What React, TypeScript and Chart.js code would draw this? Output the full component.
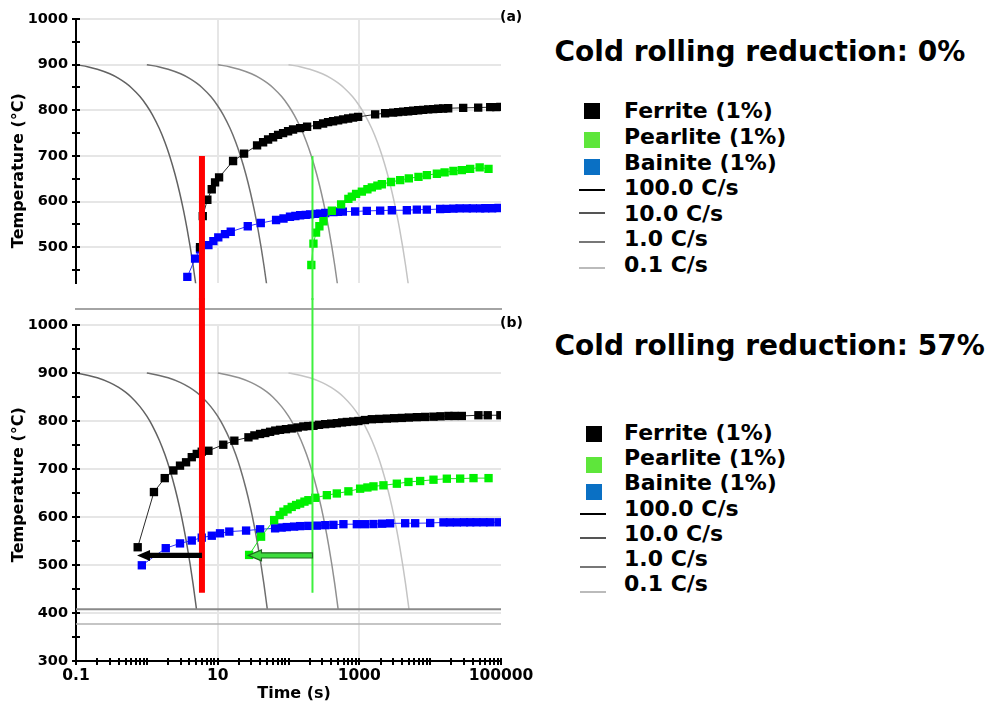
import React, { useEffect, useRef } from 'react';
import { Chart, registerables } from 'chart.js';

Chart.register(...registerables);

const FONT = '"DejaVu Sans", "Liberation Sans", sans-serif';

// ---------------- axes ----------------
const xMin = 0.1;
const xMax = 100000;
const xLabelValues = [0.1, 10, 1000, 100000];
const xLabelTexts = ['0.1', '10', '1000', '100000'];
const xGridValues = [10, 1000];
const yMax = 1000;
const yMinA = 421;
const yMinB = 300;
const yTickStep = 50;
const yLabelStep = 100;

// ---------------- cooling curves (shared temperatures) ----------------
const coolTemps = [900, 895, 890, 880, 870, 860, 850, 830, 810, 790, 760, 730, 700, 660, 620, 580, 540, 500, 460, 408];
const cool100Times = [0.1, 0.15, 0.2, 0.3, 0.4, 0.5, 0.6, 0.8, 1.0, 1.2, 1.5, 1.8, 2.1, 2.5, 2.9, 3.3, 3.7, 4.1, 4.5, 5.02];
const cool10Times = [1, 1.5, 2, 3, 4, 5, 6, 8, 10, 12, 15, 18, 21, 25, 29, 33, 37, 41, 45, 50.2];
const cool1Times = [10, 15, 20, 30, 40, 50, 60, 80, 100, 120, 150, 180, 210, 250, 290, 330, 370, 410, 450, 502];
const cool01Times = [100, 150, 200, 300, 400, 500, 600, 800, 1000, 1200, 1500, 1800, 2100, 2500, 2900, 3300, 3700, 4100, 4500, 5020];
const rateNames = ['100.0 C/s', '10.0 C/s', '1.0 C/s', '0.1 C/s'];

// martensite lines (panel b)
const msTemp = 408;
const mfTemp = 377;

// marker vertical lines
const redLineTime = 6.0;
const greenLineTime = 218;
const markerLineTop = 700;
const markerLineBottomB = 442;

// ---------------- panel (a): 0% ----------------
const ferriteATime = [5.64, 6.16, 7.15, 8.25, 9.19, 10.47, 16.5, 23.6, 36.0, 43.8, 51.5, 60.6, 71.3, 83.9, 98.7, 116, 146, 183, 254, 308, 362, 426, 502, 590, 695, 817, 962, 1672, 2314, 3002, 3532, 4157, 4890, 5754, 6769, 7964, 9371, 11030, 12970, 15260, 17960, 29250, 47640, 70400, 85550, 98000];
const ferriteATemp = [500, 568, 604, 627, 642, 653, 689, 705, 723, 730, 736, 741, 746, 750, 754, 758, 761, 764, 767.5, 771, 774, 776, 778, 780, 782, 784, 785.5, 791, 793.6, 795, 796, 797, 798, 799, 800, 801, 802, 802.7, 803.3, 804, 804.5, 805.4, 806, 806.8, 807, 807.4];

const pearliteATime = [210, 225, 245, 273, 311, 409, 553, 700, 784, 900, 1085, 1300, 1502, 1800, 2080, 2800, 3770, 5000, 6840, 9000, 12440, 16000, 21300, 28000, 36700, 50000, 66600];
const pearliteATemp = [461, 508, 532, 546, 557, 580, 594, 606, 611, 617, 622, 627, 631, 635, 638, 643, 647, 651, 654, 658, 661, 664, 667, 669, 671.5, 675, 671.5];

const bainiteATime = [3.73, 4.8, 5.64, 7.4, 8.7, 10.2, 12.7, 15.3, 26.6, 40.6, 66.8, 85, 105, 125, 146, 175, 202, 240, 279, 330, 431, 500, 585, 873, 1276, 1968, 2877, 4688, 6490, 8980, 13840, 17000, 21300, 26000, 32900, 40000, 50800, 60000, 75000, 92200];
const bainiteATemp = [435, 475, 495.5, 504.5, 513.5, 521.7, 528.6, 534, 546, 553, 559.6, 563, 566.7, 568.5, 570, 571, 572, 573, 573.5, 575, 577, 577.5, 578, 578.3, 579.7, 580.3, 581, 581, 582.4, 582.4, 583.8, 584, 584.5, 585, 585, 585, 585, 585.5, 585.5, 585.9];

// ---------------- panel (b): 57% ----------------
const ferriteBTime = [0.743, 1.26, 1.79, 2.37, 2.94, 3.58, 4.31, 5.07, 5.96, 7.4, 12, 17.2, 27.2, 33, 39.7, 47, 55, 65, 76, 92, 111, 135, 162, 190, 225, 270, 329, 400, 481, 570, 666, 820, 971, 1200, 1500, 1900, 2445, 3100, 3980, 5000, 6490, 8500, 11140, 14000, 18150, 22000, 28000, 48000, 65000, 98000];
const ferriteBTemp = [537, 652, 681, 697, 707, 714, 724.6, 731.4, 736, 738, 750.6, 759, 766, 770, 773, 775, 777.5, 780, 781.6, 783, 784.5, 786.5, 788.6, 789.5, 790, 792, 793.4, 794.5, 795.5, 797, 798, 799, 800, 802, 803.7, 804.3, 805, 805.8, 806.4, 807.2, 808, 808.5, 809, 809.8, 810.5, 810.5, 810.5, 812, 812, 812];

const pearliteBTime = [27.8, 41, 62.7, 75, 84.8, 97, 111, 128, 146, 168, 191, 238, 348, 481, 701, 1026, 1300, 1583, 2190, 3385, 4937, 7220, 11140, 17200, 26500, 40900, 66700];
const pearliteBTemp = [521, 559, 593.6, 604, 611, 616, 621, 625, 628, 632, 635, 640, 645.5, 649, 653.5, 659, 661.5, 663.8, 666, 669.4, 673, 675, 677.7, 679.8, 680, 681, 681];

const bainiteBTime = [0.85, 1.85, 2.94, 4.31, 5.96, 8.26, 10.8, 14.6, 25.2, 39.7, 64.7, 80, 94.7, 120, 146, 190, 251, 330, 431, 596, 922, 1200, 1583, 2100, 2723, 4436, 6140, 10000, 15400, 19000, 23800, 30000, 36700, 45000, 56600, 70000, 92200];
const bainiteBTemp = [499.4, 535, 545, 551, 557, 561, 566, 569.6, 571.7, 574.4, 576.4, 578, 579, 580, 581, 581.5, 582, 583, 583.6, 585, 585, 585, 585.3, 586, 586.8, 587, 587, 587.5, 588.8, 588.8, 588.8, 589, 589, 589, 589, 589, 589];

// arrows in panel (b): start time -> tip time at a temperature
const arrowFromTime = [6.0, 218];
const arrowToTime = [0.727, 27.2];
const arrowTemp = [520, 520];

// ---------------- legend ----------------
const phaseNames = ['Ferrite (1%)', 'Pearlite (1%)', 'Bainite (1%)'];
const panelTitles = ['Cold rolling reduction: 0%', 'Cold rolling reduction: 57%'];
const panelTags = ['(a)', '(b)'];

// styles
const phaseLegendColors = ['#000000', '#5ee63b', '#0a70c4'];
const rateLegendColors = ['#000000', '#555555', '#777777', '#bbbbbb'];
const coolColors = ['#626262', '#6e6e6e', '#909090', '#c4c4c4'];
const gridColor = '#e6e6e6';

const pts = (t: number[], T: number[]) => t.map((v, i) => ({ x: v, y: T[i] }));

const crossTicks = {
  id: 'crossTicks',
  afterDraw(chart: any, _a: any, opts: any) {
    const { ctx, chartArea } = chart;
    const xs = chart.scales.x;
    const ys = chart.scales.y;
    ctx.save();
    ctx.strokeStyle = '#000';
    ctx.lineWidth = 2;
    ctx.beginPath();
    for (const t of ys.ticks) {
      const py = Math.round(ys.getPixelForValue(t.value));
      ctx.moveTo(chartArea.left - 4, py);
      ctx.lineTo(chartArea.left + 4, py);
    }
    if (opts && opts.showX) {
      for (const t of xs.ticks) {
        const px = Math.round(xs.getPixelForValue(t.value));
        ctx.moveTo(px, chartArea.bottom - 3);
        ctx.lineTo(px, chartArea.bottom + 4);
      }
    }
    ctx.stroke();
    ctx.restore();
  },
};

const arrowPlugin = {
  id: 'arrows',
  afterDatasetsDraw(chart: any, _a: any, opts: any) {
    if (!opts || !opts.show) return;
    const { ctx } = chart;
    const xs = chart.scales.x;
    const ys = chart.scales.y;
    const fills = ['#000000', '#3ddc3d'];
    const strokes = [null, '#1f6a1f'];
    arrowFromTime.forEach((from, i) => {
      const x1 = xs.getPixelForValue(from);
      const x0 = xs.getPixelForValue(arrowToTime[i]);
      const y = ys.getPixelForValue(arrowTemp[i]);
      const head = 13;
      const hh = 5.5;
      const sh = 2.6;
      ctx.save();
      ctx.beginPath();
      ctx.moveTo(x0, y);
      ctx.lineTo(x0 + head, y - hh);
      ctx.lineTo(x0 + head, y - sh);
      ctx.lineTo(x1, y - sh);
      ctx.lineTo(x1, y + sh);
      ctx.lineTo(x0 + head, y + sh);
      ctx.lineTo(x0 + head, y + hh);
      ctx.closePath();
      ctx.fillStyle = fills[i];
      ctx.fill();
      if (strokes[i]) {
        ctx.strokeStyle = strokes[i];
        ctx.lineWidth = 1.2;
        ctx.stroke();
      }
      ctx.restore();
    });
  },
};

const isGrid = (v: number) => xGridValues.some((L) => Math.abs(L - v) / L < 1e-6);

function buildChart(canvas: HTMLCanvasElement, variant: 'a' | 'b') {
  const isB = variant === 'b';
  const ferrite = isB ? pts(ferriteBTime, ferriteBTemp) : pts(ferriteATime, ferriteATemp);
  const pearlite = isB ? pts(pearliteBTime, pearliteBTemp) : pts(pearliteATime, pearliteATemp);
  const bainite = isB ? pts(bainiteBTime, bainiteBTemp) : pts(bainiteATime, bainiteATemp);
  const lineTop = isB ? 1100 : markerLineTop;
  const lineBottom = isB ? markerLineBottomB : 300;
  const pr = 5.9;

  const datasets: any[] = [
    {
      label: 'red', data: [{ x: redLineTime, y: lineTop }, { x: redLineTime, y: lineBottom }],
      showLine: true, borderColor: '#ff0000', borderWidth: 6, pointRadius: 0, clip: false,
    },
    {
      label: 'green', data: [{ x: greenLineTime, y: lineTop }, { x: greenLineTime, y: lineBottom }],
      showLine: true, borderColor: '#3ef03e', borderWidth: 2, pointRadius: 0, clip: false,
    },
    {
      label: phaseNames[0], data: ferrite, showLine: true, borderColor: '#2a2a2a', borderWidth: 1,
      pointStyle: 'rect', pointRadius: pr, pointBackgroundColor: '#000', pointBorderWidth: 0,
    },
    {
      label: phaseNames[1], data: pearlite, showLine: true, borderColor: '#22e022', borderWidth: 1,
      pointStyle: 'rect', pointRadius: pr, pointBackgroundColor: '#00f000', pointBorderWidth: 0,
    },
    {
      label: phaseNames[2], data: bainite, showLine: true, borderColor: '#3030ff', borderWidth: 1,
      pointStyle: 'rect', pointRadius: pr, pointBackgroundColor: '#0000ff', pointBorderWidth: 0,
    },
  ];
  if (isB) {
    datasets.push(
      { label: 'Ms', data: [{ x: xMin, y: msTemp }, { x: xMax, y: msTemp }], showLine: true, borderColor: '#8a8a8a', borderWidth: 2, pointRadius: 0 },
      { label: 'Mf', data: [{ x: xMin, y: mfTemp }, { x: xMax, y: mfTemp }], showLine: true, borderColor: '#b2b2b2', borderWidth: 1.5, pointRadius: 0 },
    );
  }
  [cool100Times, cool10Times, cool1Times, cool01Times].forEach((times, i) => {
    datasets.push({
      label: rateNames[i], data: pts(times, coolTemps), showLine: true, borderColor: coolColors[i],
      borderWidth: 1.5, pointRadius: 0, cubicInterpolationMode: 'monotone',
    });
  });

  const tickFont = { family: FONT, size: 14.5, weight: 'bold' as const };
  const xTickFont = { family: FONT, size: 15.5, weight: 'bold' as const };
  const titleFont = { family: FONT, size: 16, weight: 'bold' as const };

  return new Chart(canvas, {
    type: 'scatter',
    data: { datasets },
    options: {
      animation: false,
      responsive: false,
      maintainAspectRatio: false,
      events: [],
      layout: { padding: { left: 0, top: isB ? 27 : 19, right: 39, bottom: isB ? 0 : 2 } },
      plugins: {
        legend: { display: false },
        tooltip: { enabled: false },
        crossTicks: { showX: isB },
        arrows: { show: isB },
      } as any,
      scales: {
        x: {
          type: 'logarithmic',
          min: xMin,
          max: xMax,
          afterBuildTicks: (scale: any) => {
            const ticks: any[] = [];
            for (let e = -1; e <= 4; e++) {
              for (let m = 1; m <= 9; m++) ticks.push({ value: Number((m * Math.pow(10, e)).toPrecision(4)) });
            }
            ticks.push({ value: xMax });
            scale.ticks = ticks;
          },
          afterFit: (scale: any) => { scale.height = isB ? 45 : 0; },
          grid: {
            drawTicks: false,
            lineWidth: 2,
            color: (c: any) => (c.tick && isGrid(c.tick.value) ? gridColor : 'rgba(0,0,0,0)'),
          },
          border: { display: isB, color: '#000', width: 2 },
          ticks: {
            display: isB,
            autoSkip: false,
            maxRotation: 0,
            padding: 6,
            color: '#000',
            font: xTickFont,
            callback: (v: any) => {
              const idx = xLabelValues.findIndex((L) => Math.abs(L - Number(v)) / L < 1e-6);
              return idx >= 0 ? xLabelTexts[idx] : '';
            },
          },
          title: {
            display: isB,
            text: '\u00a0\u00a0Time (s)',
            color: '#000',
            font: titleFont,
            padding: { top: 0, bottom: 3 },
          },
        },
        y: {
          type: 'linear',
          min: isB ? yMinB : yMinA,
          max: yMax,
          afterFit: (scale: any) => { scale.width = 76; },
          grid: {
            drawTicks: false,
            lineWidth: 2,
            color: (c: any) => (c.tick && c.tick.value % yLabelStep === 0 ? gridColor : 'rgba(0,0,0,0)'),
          },
          border: { display: true, color: '#000', width: 2 },
          ticks: {
            stepSize: yTickStep,
            includeBounds: false,
            autoSkip: false,
            padding: 8,
            color: '#000',
            font: tickFont,
            callback: (v: any) => (Number(v) % yLabelStep === 0 ? String(v) : ''),
          },
          title: {
            display: true,
            text: isB ? '\u00a0\u00a0\u00a0Temperature (°C)' : 'Temperature (°C)\u00a0\u00a0\u00a0\u00a0\u00a0\u00a0\u00a0',
            color: '#000',
            font: titleFont,
            padding: { top: 9, bottom: 0 },
          },
        },
      },
    } as any,
    plugins: [crossTicks, arrowPlugin],
  });
}

function CCTChart({ variant, top, height }: { variant: 'a' | 'b'; top: number; height: number }) {
  const ref = useRef<HTMLCanvasElement>(null);
  useEffect(() => {
    if (!ref.current) return;
    const chart = buildChart(ref.current, variant);
    return () => chart.destroy();
  }, [variant]);
  return (
    <canvas
      ref={ref}
      width={540}
      height={height}
      style={{ position: 'absolute', left: 0, top, width: 540, height, display: 'block' }}
    />
  );
}

function LegendBlock({
  title, titleBaseline, rowBaselines, squareTops, squareLeft, lineYs, lineLeft,
}: {
  title: string; titleBaseline: number; rowBaselines: number[]; squareTops: number[];
  squareLeft: number; lineYs: number[]; lineLeft: number;
}) {
  const texts = [...phaseNames, ...rateNames];
  return (
    <>
      <div style={{
        position: 'absolute', left: 554.5, top: titleBaseline - 0.846 * 28, fontFamily: FONT,
        fontWeight: 'bold', fontSize: 28, lineHeight: '28px', whiteSpace: 'nowrap', color: '#000',
      }}>{title}</div>
      {texts.map((t, i) => (
        <div key={t} style={{
          position: 'absolute', left: 624, top: rowBaselines[i] - 0.846 * 22, fontFamily: FONT,
          fontWeight: 'bold', fontSize: 22, lineHeight: '22px', whiteSpace: 'nowrap', color: '#000',
        }}>{t}</div>
      ))}
      {phaseLegendColors.map((c, i) => (
        <div key={'sq' + i} style={{
          position: 'absolute', left: squareLeft, top: squareTops[i], width: 16, height: 16, background: c,
        }} />
      ))}
      {rateLegendColors.map((c, i) => (
        <div key={'ln' + i} style={{
          position: 'absolute', left: lineLeft, top: lineYs[i] - 1, width: 26, height: 2, background: c,
        }} />
      ))}
    </>
  );
}

export default function App() {
  const tagStyle: React.CSSProperties = {
    position: 'absolute', left: 500, fontFamily: FONT, fontWeight: 'bold', fontSize: 14,
    lineHeight: '14px', color: '#000', whiteSpace: 'nowrap',
  };
  return (
    <div style={{ position: 'absolute', left: 0, top: 0, width: 990, height: 706, background: '#fff', overflow: 'hidden' }}>
      <CCTChart variant="a" top={0} height={300} />
      <div style={{ position: 'absolute', left: 75, top: 308, width: 427, height: 2, background: '#a4a4a4' }} />
      <CCTChart variant="b" top={298} height={408} />
      <div style={{ ...tagStyle, top: 9 }}>{panelTags[0]}</div>
      <div style={{ ...tagStyle, top: 315 }}>{panelTags[1]}</div>
      <LegendBlock
        title={panelTitles[0]}
        titleBaseline={61.7}
        rowBaselines={[119, 144.6, 170.2, 195.8, 221.4, 247, 272.6]}
        squareTops={[103, 132, 158.5]}
        squareLeft={584}
        lineYs={[190, 213, 241.7, 267.7]}
        lineLeft={579}
      />
      <LegendBlock
        title={panelTitles[1]}
        titleBaseline={356}
        rowBaselines={[440.7, 465.9, 491.1, 516.3, 541.5, 566.7, 591.9]}
        squareTops={[426, 457, 484]}
        squareLeft={586}
        lineYs={[514.3, 537.7, 566.7, 591.7]}
        lineLeft={580}
      />
    </div>
  );
}
